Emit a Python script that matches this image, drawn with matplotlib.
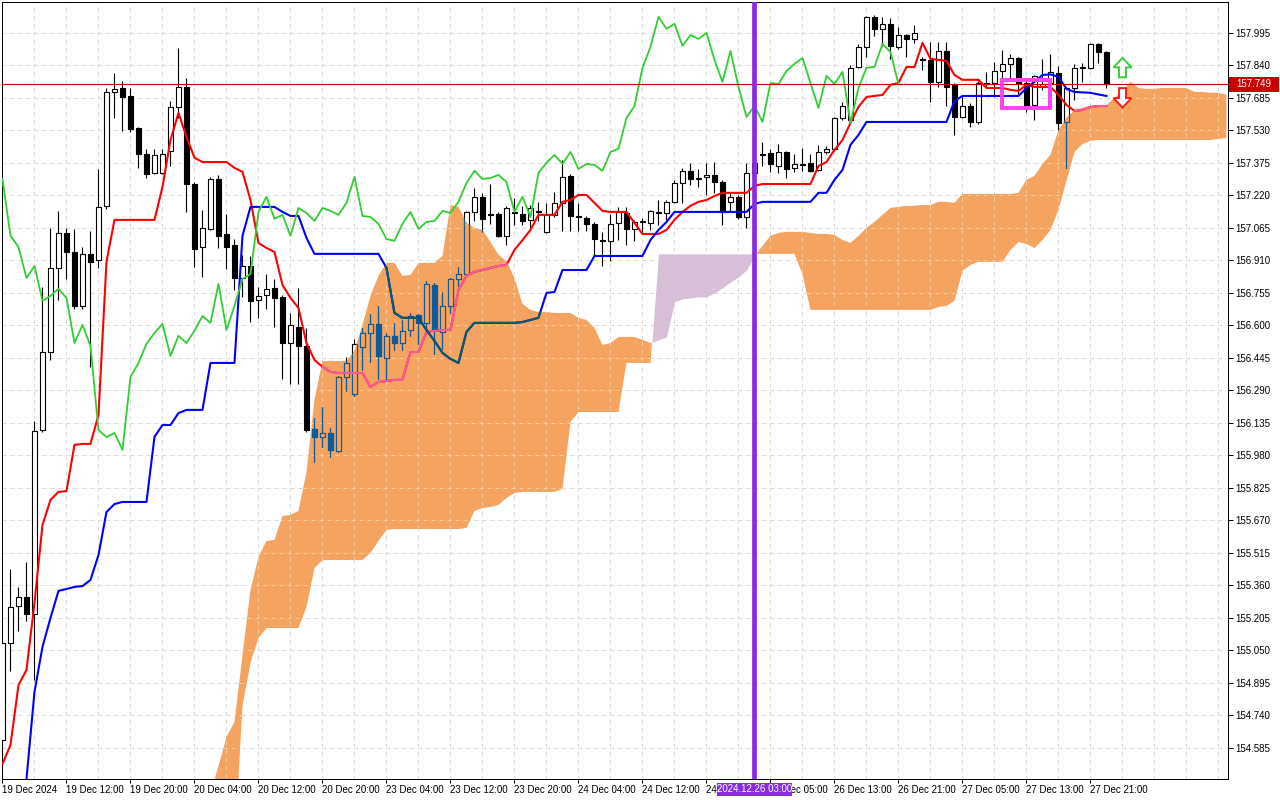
import matplotlib
matplotlib.use("Agg")
import matplotlib.pyplot as plt
import matplotlib.transforms as mtransforms
import numpy as np
from matplotlib.patches import Rectangle, Polygon
from matplotlib.path import Path

plt.rcParams["font.family"] = ["Liberation Sans", "DejaVu Sans"]
plt.rcParams["font.size"] = 7

# H1 candles, bar 0 = 19 Dec 04:00, last bar = 27 Dec 23:00
opens = [
    154.622, 155.085, 155.261, 155.304, 155.223, 156.100, 156.472, 156.873, 157.040, 156.949,
    156.692, 156.940, 156.911, 157.169, 157.712, 157.731, 157.693, 157.541, 157.417, 157.326,
    157.326, 157.431, 157.641, 157.736, 157.273, 156.973, 157.059, 157.297, 157.035, 156.983,
    156.825, 156.882, 156.720, 156.744, 156.778, 156.735, 156.515, 156.592, 156.501, 156.105,
    156.067, 156.086, 156.000, 156.353, 156.272, 156.496, 156.563, 156.606, 156.444, 156.549,
    156.515, 156.577, 156.649, 156.611, 156.792, 156.568, 156.692, 156.820, 156.844, 157.140,
    157.212, 157.131, 157.131, 157.026, 157.140, 157.131, 157.102, 157.140, 157.045, 157.126,
    157.183, 157.312, 157.121, 157.112, 157.083, 157.006, 157.002, 157.088, 157.135, 157.059,
    157.092, 157.088, 157.140, 157.135, 157.188, 157.278, 157.336, 157.297, 157.307, 157.316,
    157.283, 157.188, 157.212, 157.116, 157.326, 157.417, 157.421, 157.359, 157.426, 157.350,
    157.369, 157.374, 157.340, 157.426, 157.441, 157.588, 157.579, 157.831, 157.927, 158.070,
    158.013, 158.037, 157.927, 157.984, 157.965, 157.870, 157.865, 157.760, 157.908, 157.746,
    157.593, 157.645, 157.569, 157.755, 157.755, 157.812, 157.846, 157.874, 157.755, 157.650,
    157.736, 157.755, 157.803, 157.569, 157.731, 157.827, 157.827, 157.941, 157.903]
highs = [
    155.099, 155.438, 155.351, 155.470, 156.143, 156.782, 157.064, 157.145, 157.064, 157.059,
    156.973, 157.049, 157.345, 157.731, 157.803, 157.765, 157.731, 157.545, 157.441, 157.441,
    157.441, 157.669, 157.922, 157.779, 157.283, 157.150, 157.307, 157.316, 157.131, 157.011,
    156.935, 156.930, 156.782, 156.844, 156.820, 156.744, 156.658, 156.778, 156.587, 156.157,
    156.210, 156.110, 156.358, 156.449, 156.535, 156.587, 156.654, 156.692, 156.563, 156.611,
    156.625, 156.658, 156.654, 156.811, 156.801, 156.758, 156.825, 156.878, 157.145, 157.254,
    157.231, 157.273, 157.140, 157.169, 157.207, 157.169, 157.174, 157.188, 157.183, 157.235,
    157.388, 157.321, 157.183, 157.121, 157.092, 157.045, 157.131, 157.164, 157.164, 157.102,
    157.112, 157.150, 157.197, 157.197, 157.293, 157.350, 157.374, 157.345, 157.374, 157.378,
    157.293, 157.235, 157.221, 157.374, 157.398, 157.474, 157.441, 157.464, 157.431, 157.417,
    157.445, 157.417, 157.459, 157.455, 157.593, 157.665, 157.841, 157.941, 158.075, 158.079,
    158.070, 158.065, 158.022, 157.989, 158.032, 157.879, 157.951, 157.951, 157.951, 157.755,
    157.693, 157.660, 157.765, 157.808, 157.855, 157.913, 157.894, 157.879, 157.779, 157.793,
    157.870, 157.894, 157.836, 157.736, 157.846, 157.851, 157.946, 157.946, 157.908]
lows = [
    154.436, 154.951, 155.142, 155.189, 154.908, 156.091, 156.434, 156.720, 156.820, 156.678,
    156.678, 156.401, 156.873, 157.155, 157.588, 157.526, 157.521, 157.350, 157.302, 157.321,
    157.321, 157.359, 157.588, 157.140, 156.878, 156.830, 157.054, 156.968, 156.868, 156.768,
    156.735, 156.615, 156.635, 156.678, 156.592, 156.343, 156.320, 156.320, 156.091, 155.948,
    156.019, 155.972, 155.995, 156.286, 156.263, 156.386, 156.425, 156.343, 156.334, 156.482,
    156.482, 156.549, 156.511, 156.558, 156.463, 156.487, 156.658, 156.787, 156.840, 157.097,
    157.045, 157.083, 157.021, 156.983, 157.078, 157.078, 157.054, 157.097, 157.040, 157.116,
    157.049, 157.049, 157.049, 157.049, 156.930, 156.882, 156.906, 157.006, 156.983, 157.002,
    157.035, 157.054, 157.078, 157.102, 157.183, 157.183, 157.269, 157.259, 157.221, 157.231,
    157.078, 157.140, 157.107, 157.064, 157.302, 157.359, 157.331, 157.326, 157.302, 157.331,
    157.336, 157.331, 157.336, 157.417, 157.431, 157.579, 157.564, 157.827, 157.879, 157.979,
    157.932, 157.870, 157.917, 157.879, 157.946, 157.817, 157.665, 157.736, 157.645, 157.507,
    157.588, 157.545, 157.560, 157.731, 157.688, 157.765, 157.765, 157.703, 157.617, 157.579,
    157.722, 157.731, 157.531, 157.350, 157.674, 157.760, 157.822, 157.851, 157.731]
closes = [
    155.085, 155.256, 155.304, 155.223, 156.095, 156.472, 156.873, 157.040, 156.949, 156.692,
    156.940, 156.902, 157.164, 157.712, 157.727, 157.688, 157.536, 157.417, 157.321, 157.412,
    157.417, 157.641, 157.736, 157.273, 156.964, 157.064, 157.297, 157.026, 156.973, 156.825,
    156.882, 156.716, 156.739, 156.773, 156.730, 156.515, 156.601, 156.501, 156.100, 156.067,
    156.086, 156.005, 156.353, 156.420, 156.511, 156.563, 156.606, 156.453, 156.549, 156.515,
    156.573, 156.644, 156.611, 156.797, 156.577, 156.692, 156.820, 156.844, 157.140, 157.212,
    157.107, 157.126, 157.026, 157.159, 157.135, 157.097, 157.159, 157.145, 157.126, 157.183,
    157.307, 157.121, 157.116, 157.083, 157.011, 157.002, 157.083, 157.140, 157.059, 157.092,
    157.097, 157.145, 157.135, 157.188, 157.278, 157.336, 157.297, 157.302, 157.316, 157.283,
    157.140, 157.212, 157.116, 157.326, 157.374, 157.412, 157.369, 157.426, 157.345, 157.369,
    157.364, 157.336, 157.426, 157.441, 157.588, 157.645, 157.827, 157.927, 158.070, 158.013,
    158.037, 157.932, 157.984, 157.965, 157.994, 157.865, 157.760, 157.908, 157.736, 157.593,
    157.645, 157.569, 157.755, 157.750, 157.812, 157.846, 157.874, 157.755, 157.636, 157.789,
    157.750, 157.808, 157.564, 157.731, 157.827, 157.832, 157.941, 157.903, 157.749]

# Ichimoku lines
tenkan = [
    154.508, 154.598, 154.884, 154.956, 155.275, 155.647, 155.767, 155.805, 155.809, 156.029,
    156.034, 156.034, 156.172, 156.902, 157.102, 157.102, 157.102, 157.102, 157.102, 157.102,
    157.259, 157.483, 157.612, 157.498, 157.398, 157.378, 157.378, 157.378, 157.378, 157.350,
    157.331, 157.197, 156.992, 156.968, 156.949, 156.792, 156.730, 156.682, 156.515, 156.434,
    156.401, 156.377, 156.372, 156.372, 156.372, 156.372, 156.305, 156.329, 156.334, 156.339,
    156.339, 156.472, 156.472, 156.568, 156.573, 156.577, 156.577, 156.768, 156.835, 156.854,
    156.863, 156.873, 156.882, 156.887, 156.959, 157.006, 157.054, 157.126, 157.126, 157.126,
    157.188, 157.197, 157.221, 157.221, 157.183, 157.145, 157.140, 157.140, 157.140, 157.088,
    157.035, 157.035, 157.035, 157.054, 157.102, 157.140, 157.169, 157.188, 157.197, 157.216,
    157.231, 157.231, 157.231, 157.231, 157.264, 157.273, 157.273, 157.273, 157.273, 157.273,
    157.273, 157.273, 157.359, 157.378, 157.436, 157.483, 157.564, 157.641, 157.688, 157.693,
    157.698, 157.746, 157.755, 157.831, 157.831, 157.946, 157.870, 157.865, 157.860, 157.793,
    157.770, 157.770, 157.770, 157.731, 157.731, 157.731, 157.722, 157.717, 157.746, 157.736,
    157.736, 157.736, 157.698, 157.650, 157.622, 157.626, 157.641, 157.645, 157.645]
kijun = [
    153.859, 154.050, 154.240, 154.436, 154.851, 155.066, 155.204, 155.333, 155.342, 155.352,
    155.356, 155.385, 155.504, 155.709, 155.747, 155.757, 155.757, 155.757, 155.757, 156.067,
    156.124, 156.124, 156.181, 156.196, 156.196, 156.196, 156.420, 156.420, 156.420, 156.420,
    157.026, 157.164, 157.164, 157.164, 157.164, 157.140, 157.121, 157.121, 157.016, 156.940,
    156.940, 156.940, 156.940, 156.940, 156.940, 156.940, 156.940, 156.940, 156.873, 156.658,
    156.635, 156.635, 156.635, 156.577, 156.525, 156.468, 156.439, 156.420, 156.568, 156.611,
    156.611, 156.611, 156.611, 156.611, 156.611, 156.615, 156.625, 156.635, 156.754, 156.758,
    156.863, 156.863, 156.863, 156.863, 156.930, 156.930, 156.930, 156.930, 156.930, 156.930,
    156.930, 157.006, 157.054, 157.092, 157.140, 157.140, 157.140, 157.140, 157.140, 157.140,
    157.140, 157.140, 157.140, 157.140, 157.178, 157.188, 157.188, 157.188, 157.188, 157.188,
    157.188, 157.188, 157.231, 157.231, 157.293, 157.340, 157.460, 157.507, 157.569, 157.569,
    157.569, 157.569, 157.569, 157.569, 157.569, 157.569, 157.569, 157.569, 157.569, 157.669,
    157.693, 157.693, 157.693, 157.693, 157.693, 157.693, 157.693, 157.693, 157.731, 157.760,
    157.793, 157.796, 157.784, 157.727, 157.712, 157.710, 157.708, 157.700, 157.693]

# Kumo, bars 26 .. 153 (runs 26 bars past the last candle)
span_start = 26
span_a = [
    154.369, 154.498, 154.636, 154.708, 155.027, 155.337, 155.495, 155.571, 155.576, 155.690,
    155.695, 155.714, 155.900, 156.243, 156.429, 156.429, 156.429, 156.429, 156.477, 156.601,
    156.739, 156.835, 156.897, 156.897, 156.835, 156.840, 156.897, 156.897, 156.897, 156.930,
    157.173, 157.164, 157.088, 157.064, 157.054, 156.997, 156.935, 156.906, 156.825, 156.701,
    156.673, 156.663, 156.663, 156.658, 156.658, 156.658, 156.635, 156.625, 156.587, 156.506,
    156.515, 156.544, 156.544, 156.544, 156.530, 156.515, 156.530, 156.544, 156.711, 156.725,
    156.730, 156.735, 156.735, 156.754, 156.778, 156.806, 156.830, 156.863, 156.930, 156.978,
    157.026, 157.040, 157.045, 157.045, 157.045, 157.040, 157.035, 157.035, 157.030, 157.006,
    156.992, 157.026, 157.064, 157.092, 157.126, 157.159, 157.164, 157.169, 157.169, 157.173,
    157.173, 157.188, 157.188, 157.183, 157.226, 157.226, 157.226, 157.226, 157.226, 157.226,
    157.226, 157.231, 157.293, 157.312, 157.369, 157.412, 157.531, 157.588, 157.626, 157.636,
    157.645, 157.650, 157.650, 157.684, 157.717, 157.760, 157.731, 157.727, 157.727, 157.731,
    157.731, 157.731, 157.731, 157.712, 157.712, 157.708, 157.708, 157.698]
span_b = [
    153.382, 153.621, 153.859, 154.097, 154.784, 154.989, 155.108, 155.156, 155.156, 155.156,
    155.156, 155.156, 155.256, 155.442, 155.480, 155.480, 155.480, 155.480, 155.480, 155.480,
    155.514, 155.571, 155.623, 155.628, 155.628, 155.628, 155.628, 155.628, 155.628, 155.628,
    155.628, 155.628, 155.633, 155.714, 155.728, 155.733, 155.743, 155.776, 155.800, 155.805,
    155.805, 155.805, 155.805, 155.805, 155.819, 156.138, 156.186, 156.186, 156.186, 156.186,
    156.186, 156.186, 156.420, 156.420, 156.420, 156.420, 156.940, 156.940, 156.940, 156.940,
    156.940, 156.940, 156.940, 156.940, 156.940, 156.940, 156.940, 156.940, 156.940, 156.940,
    156.940, 156.940, 156.940, 156.940, 156.844, 156.673, 156.673, 156.673, 156.673, 156.673,
    156.673, 156.673, 156.673, 156.673, 156.673, 156.673, 156.673, 156.673, 156.673, 156.673,
    156.673, 156.687, 156.692, 156.716, 156.859, 156.887, 156.902, 156.902, 156.902, 156.902,
    156.959, 156.997, 156.987, 156.968, 157.006, 157.054, 157.150, 157.288, 157.426, 157.464,
    157.479, 157.483, 157.483, 157.483, 157.483, 157.483, 157.483, 157.483, 157.483, 157.483,
    157.483, 157.483, 157.483, 157.483, 157.483, 157.483, 157.488, 157.493]
chikou_shift = 26

price_ticks = [154.585, 154.740, 154.895, 155.050, 155.205, 155.360, 155.515, 155.670,
               155.825, 155.980, 156.135, 156.290, 156.445, 156.600, 156.755, 156.910,
               157.065, 157.220, 157.375, 157.530, 157.685, 157.840, 157.995]
time_labels = ["19 Dec 2024", "19 Dec 12:00", "19 Dec 20:00", "20 Dec 04:00", "20 Dec 12:00",
               "20 Dec 20:00", "23 Dec 04:00", "23 Dec 12:00", "23 Dec 20:00", "24 Dec 04:00",
               "24 Dec 12:00", "24 Dec 20:00", "26 Dec 05:00", "26 Dec 13:00", "26 Dec 21:00",
               "27 Dec 05:00", "27 Dec 13:00", "27 Dec 21:00"]

bid = 157.749
cursor_bar = 94
cursor_text = "2024.12.26 03:00"
box_left, box_right = 124.9, 130.9
box_low, box_high = 157.636, 157.771
arrow_bar = 140
arrow_up_price = 157.827
arrow_down_price = 157.685

UP_KUMO = "#F4A460"
DN_KUMO = "#D8BFD8"

n = len(opens)
x = np.arange(n)
o, h, l, c = (np.array(v) for v in (opens, highs, lows, closes))

fig = plt.figure(figsize=(12.8, 8), dpi=100)
ax = fig.add_axes([2 / 1280, 21 / 800, 1226 / 1280, 777 / 800])
ax.set_xlim(-0.06, 153.19)
ax.set_ylim(154.436, 158.141)
ax.set_facecolor("white")

# axes, ticks, grid
ax.set_xticks(np.arange(0, n, 8))
ax.set_xticklabels(time_labels, ha="left")
ax.set_xticks(np.arange(0, 154, 4), minor=True)
ax.yaxis.tick_right()
ax.set_yticks(price_ticks)
ax.set_yticklabels([f"{p:.3f}" for p in price_ticks])
ax.tick_params(axis="x", which="minor", length=0)
ax.tick_params(axis="x", which="major", length=3, width=0.72, pad=1.5)
ax.tick_params(axis="y", length=3.6, width=0.72, pad=1.5)
grid_style = (0, (4, 4))
ax.grid(True, which="both", color="#dadada", lw=0.72, linestyle=grid_style)
ax.set_axisbelow(True)
for sp in ax.spines.values():
    sp.set_linewidth(0.72)
    sp.set_color("black")

# cloud
sx = np.arange(span_start, span_start + len(span_a))
a = np.array(span_a)
b = np.array(span_b)
kumo_up = ax.fill_between(sx, a, b, where=a >= b, interpolate=True, color=UP_KUMO, lw=0, zorder=1)
ax.fill_between(sx, a, b, where=a < b, interpolate=True, color=DN_KUMO, lw=0, zorder=1)
kumo = Path.make_compound_path(*kumo_up.get_paths())

# grid seen through the orange cloud
gh = ax.hlines(price_ticks, -1, 160, color="#f9cd9c", lw=0.72, linestyle=grid_style, zorder=1.5)
gv = ax.vlines(np.arange(0, 154, 4), 154.0, 158.5, color="#f9cd9c", lw=0.72, linestyle=grid_style, zorder=1.5)
for g in (gh, gv):
    g.set_clip_path(kumo, ax.transData)


def candles(edge, bull, bear, z, clip=None):
    wick = ax.vlines(x, l, h, color=edge, lw=0.8, zorder=z)
    bottom = np.minimum(o, c)
    height = np.maximum(np.abs(c - o), 0.0004)
    faces = [bull if cc >= oo else bear for oo, cc in zip(o, c)]
    bars = ax.bar(x, height, 0.6, bottom=bottom, color=faces, edgecolor=edge, lw=0.8, zorder=z + 0.1)
    if clip is not None:
        wick.set_clip_path(clip, ax.transData)
        for p in bars:
            p.set_clip_path(clip, ax.transData)


candles("black", "white", "black", 3)
# inside the up-kumo the terminal inverts colours
candles("#0B5B9F", UP_KUMO, "#0B5B9F", 3.3, kumo)


def ichi_line(xs, vals, color, inside, z, lw=1.5):
    ax.plot(xs, vals, color=color, lw=lw, zorder=z)
    if inside:
        ln, = ax.plot(xs, vals, color=inside, lw=lw, zorder=z + 0.05)
        ln.set_clip_path(kumo, ax.transData)


ichi_line(x, tenkan, "#FF0000", "#F45B9F", 4.0)
ichi_line(x, kijun, "#0000FF", "#0B5B60", 4.2)
ichi_line(x - chikou_shift, closes, "#32CD32", None, 4.4, lw=1.3)

# bid line and label
ax.axhline(bid, color="#C80000", lw=0.8, zorder=5)
bl = mtransforms.blended_transform_factory(ax.transAxes, ax.transData)
ax.add_patch(Rectangle((1.0008, bid - 0.036), 0.0408, 0.072, transform=bl,
                       fc="#C80000", ec="none", clip_on=False, zorder=10))
ax.text(1.0212, bid, f"{bid:.3f}", transform=bl, ha="center", va="center",
        color="white", fontsize=7, clip_on=False, zorder=11)

# magenta box
ax.add_patch(Rectangle((box_left, box_low), box_right - box_left, box_high - box_low,
                       fill=False, ec="#FF44F5", lw=2.9, joinstyle="miter", zorder=5.5))

# arrows (shape in pixels around the anchor)
up_shape = np.array([[0, 10], [9, 0.5], [3.5, 0.5], [3.5, -9.5], [-3.5, -9.5],
                     [-3.5, 0.5], [-9, 0.5]]) / 100.0
for price, sign, col in ((arrow_up_price, 1, "#3CCB3C"), (arrow_down_price, -1, "#FF1A1A")):
    tr = fig.dpi_scale_trans + mtransforms.ScaledTranslation(arrow_bar, price, ax.transData)
    ax.add_patch(Polygon(up_shape * [1, sign], closed=True, fc="white", ec=col, lw=1.4,
                         joinstyle="miter", transform=tr, zorder=6))

# crosshair at cursor bar
ax.axvline(cursor_bar, color="#8A2BE2", lw=3.4, zorder=7)
bx = mtransforms.blended_transform_factory(ax.transData, ax.transAxes)
ax.add_patch(Rectangle((cursor_bar - 4.7, -0.0219), 9.4, 0.0168, transform=bx,
                       fc="#8A2BE2", ec="none", clip_on=False, zorder=10))
ax.text(cursor_bar, -0.0135, cursor_text, transform=bx, ha="center", va="center",
        color="white", fontsize=7, clip_on=False, zorder=11)

fig.savefig("out.png", dpi=100, facecolor="white")
